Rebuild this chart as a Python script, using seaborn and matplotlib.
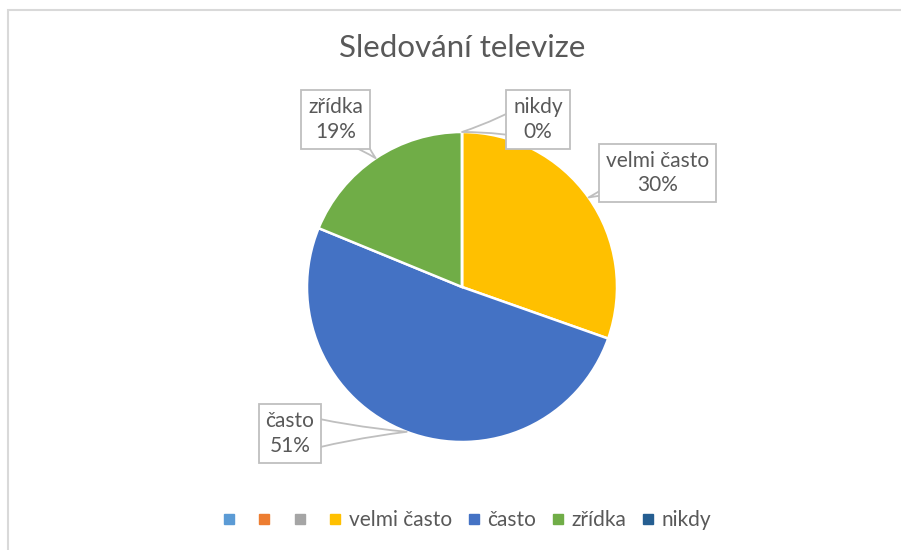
import numpy as np
import matplotlib
matplotlib.use("Agg")
import matplotlib.pyplot as plt
from matplotlib.lines import Line2D
from matplotlib.patches import Rectangle
import seaborn as sns

sns.set_theme(style="white")
plt.rcParams['font.family'] = ['Lato', 'DejaVu Sans']

# data
categories = ["velmi často", "často", "zřídka", "nikdy"]
values = [30.4, 50.8, 18.8, 0.0]
percent_labels = ["30%", "51%", "19%", "0%"]
colors = ["#FFC000", "#4472C4", "#70AD47", "#255E91"]
legend_extra_colors = ["#5B9BD5", "#ED7D31", "#A5A5A5"]
title = "Sledování televize"

text_color = "#595959"
W, H = 901, 550
fig = plt.figure(figsize=(W / 100, H / 100), dpi=100)
fig.patch.set_facecolor("white")

# chart border (left/top visible)
fig.patches.append(Rectangle((8 / W, -0.1), 1.2, 1 - 10 / H + 0.1, transform=fig.transFigure,
                             fill=False, edgecolor="#D9D9D9", linewidth=1.5))

cx, cy, r = 462, 287, 155
ax = fig.add_axes([(cx - r) / W, (H - cy - r) / H, 2 * r / W, 2 * r / H])
wedges, _ = ax.pie(values, colors=colors, startangle=90, counterclock=False,
                   wedgeprops=dict(edgecolor="white", linewidth=1.8))
ax.set_xlim(-1, 1)
ax.set_ylim(-1, 1)
ax.set_aspect("equal")
ax.axis("off")

# label box positions (data units)
label_pos = [(1.263, 0.735), (-1.11, -0.945), (-0.815, 1.08), (0.49, 1.08)]
for w, cat, pct, pos in zip(wedges, categories, percent_labels, label_pos):
    ang = np.deg2rad((w.theta1 + w.theta2) / 2)
    tip = (np.cos(ang), np.sin(ang))
    ax.annotate(f"{cat}\n{pct}", xy=tip, xytext=pos, textcoords="data",
                ha="center", va="center", fontsize=15, color=text_color,
                linespacing=1.3, annotation_clip=False,
                bbox=dict(boxstyle="square,pad=0.33", facecolor="white",
                          edgecolor="#BFBFBF", linewidth=1.3),
                arrowprops=dict(arrowstyle="wedge,tail_width=2.0,shrink_factor=0.4",
                                facecolor="white", edgecolor="#BFBFBF", linewidth=1.3,
                                shrinkA=0, shrinkB=0, patchA=None))

fig.text(cx / W, 1 - 48 / H, title, ha="center", va="center", fontsize=22.5, color=text_color)

handles = [Line2D([], [], linestyle="none", marker="s", markersize=6.5,
                  markerfacecolor=c, markeredgecolor=c) for c in legend_extra_colors + colors]
labels = ["", "", ""] + categories
fig.legend(handles, labels, loc="center", bbox_to_anchor=(467 / W, 1 - 520 / H), ncol=7,
           frameon=False, fontsize=15, handlelength=0.6, handletextpad=0.35,
           columnspacing=0.75, labelcolor=text_color)

fig.savefig("out.png", dpi=100, facecolor="white")
